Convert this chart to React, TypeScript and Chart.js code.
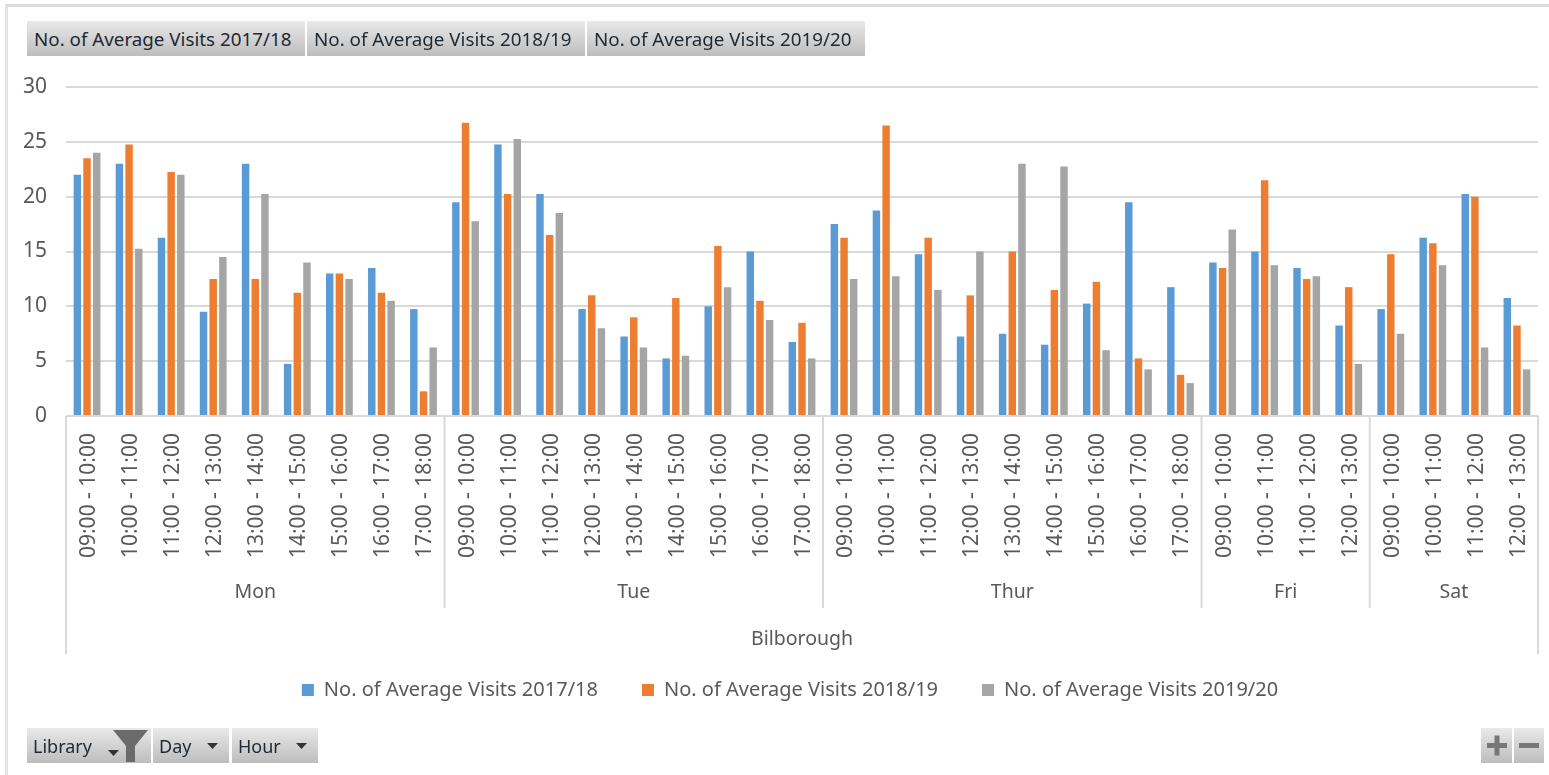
import React, { useEffect, useRef } from "react";
import { Chart, registerables } from "chart.js";

Chart.register(...registerables);

const hoursLong = ["09:00 - 10:00","10:00 - 11:00","11:00 - 12:00","12:00 - 13:00","13:00 - 14:00","14:00 - 15:00","15:00 - 16:00","16:00 - 17:00","17:00 - 18:00"];
const hoursShort = ["09:00 - 10:00","10:00 - 11:00","11:00 - 12:00","12:00 - 13:00"];
const categories = [...hoursLong, ...hoursLong, ...hoursLong, ...hoursShort, ...hoursShort];
const days = ["Mon", "Tue", "Thur", "Fri", "Sat"];
const dayCounts = [9, 9, 9, 4, 4];
const library = "Bilborough";
const seriesNames = ["No. of Average Visits 2017/18", "No. of Average Visits 2018/19", "No. of Average Visits 2019/20"];
const visits1718 = [22,23,16.25,9.5,23,4.75,13,13.5,9.75, 19.5,24.75,20.25,9.75,7.25,5.25,10,15,6.75, 17.5,18.75,14.75,7.25,7.5,6.5,10.25,19.5,11.75, 14,15,13.5,8.25, 9.75,16.25,20.25,10.75];
const visits1819 = [23.5,24.75,22.25,12.5,12.5,11.25,13,11.25,2.25, 26.75,20.25,16.5,11,9,10.75,15.5,10.5,8.5, 16.25,26.5,16.25,11,15,11.5,12.25,5.25,3.75, 13.5,21.5,12.5,11.75, 14.75,15.75,20,8.25];
const visits1920 = [24,15.25,22,14.5,20.25,14,12.5,10.5,6.25, 17.75,25.25,18.5,8,6.25,5.5,11.75,8.75,5.25, 12.5,12.75,11.5,15,23,22.75,6,4.25,3, 17,13.75,12.75,4.75, 7.5,13.75,6.25,4.25];
const colors = ["#5B9BD5", "#ED7D31", "#A5A5A5"];
const topButtons = seriesNames;
const FONT = "'Noto Sans', sans-serif";
const TEXT = "#595959";
const LINE = "#d9d9d9";

const groupAxis = {
  id: "groupAxis",
  afterLayout(chart: any) {
    chart.legend.left += 21;
    chart.legend.right += 21;
  },
  afterDraw(chart: any) {
    const { ctx, scales: { x } } = chart;
    const base = chart.chartArea.bottom;
    const step = x.getPixelForValue(1) - x.getPixelForValue(0);
    const edge = (i: number) => x.getPixelForValue(i) - step / 2;
    ctx.save();
    ctx.strokeStyle = LINE;
    ctx.lineWidth = 2;
    ctx.fillStyle = TEXT;
    ctx.font = `19.5px ${FONT}`;
    ctx.textAlign = "center";
    ctx.textBaseline = "middle";
    const vline = (px: number, bottom: number) => {
      ctx.beginPath();
      ctx.moveTo(px, base);
      ctx.lineTo(px, bottom);
      ctx.stroke();
    };
    let start = 0;
    days.forEach((d, i) => {
      const end = start + dayCounts[i];
      ctx.fillText(d, (edge(start) + edge(end)) / 2, base + 176);
      if (i < days.length - 1) vline(edge(end), base + 192);
      start = end;
    });
    vline(edge(0), base + 238);
    vline(edge(start), base + 238);
    ctx.fillText(library, (edge(0) + edge(start)) / 2, base + 223);
    ctx.restore();
  },
};

const btn: React.CSSProperties = {
  position: "absolute",
  boxSizing: "border-box",
  background: "linear-gradient(#e9e9e9, #bdbdbd)",
  color: "#1e2933",
  font: `18.8px ${FONT}`,
  display: "flex",
  alignItems: "center",
  paddingLeft: 7,
  whiteSpace: "nowrap",
  overflow: "hidden",
};
const btnSmall: React.CSSProperties = { ...btn, font: `18px ${FONT}`, paddingLeft: 6 };

const Arrow = ({ x, y }: { x: number; y: number }) => (
  <svg style={{ position: "absolute", left: x, top: y }} width="11" height="6">
    <polygon points="0,0 11,0 5.5,6" fill="#333" />
  </svg>
);

export default function App() {
  const ref = useRef<HTMLCanvasElement>(null);
  useEffect(() => {
    const chart = new Chart(ref.current!, {
      type: "bar",
      data: {
        labels: categories,
        datasets: [visits1718, visits1819, visits1920].map((data, i) => ({
          label: seriesNames[i],
          data,
          backgroundColor: colors[i],
          categoryPercentage: 0.69,
          barPercentage: 0.77,
        })),
      },
      options: {
        responsive: false,
        animation: false,
        layout: { padding: { top: 87, right: 11, left: 0, bottom: 65 } },
        plugins: {
          tooltip: { enabled: false },
          legend: {
            position: "bottom",
            labels: {
              color: TEXT,
              font: { family: FONT, size: 20 },
              boxWidth: 12,
              boxHeight: 12,
              padding: 44,
            },
          },
        },
        scales: {
          x: {
            afterFit: (s: any) => { s.height = 220; s.paddingLeft = 0; s.paddingRight = 0; },
            grid: { display: false, drawTicks: false },
            border: { display: false },
            ticks: {
              autoSkip: false,
              minRotation: 90,
              maxRotation: 90,
              padding: 17,
              labelOffset: 2,
              color: TEXT,
              font: { family: FONT, size: 21 },
            },
          },
          y: {
            min: 0,
            max: 30,
            afterFit: (s: any) => { s.width = 66; s.paddingTop = 0; s.paddingBottom = 0; },
            grid: { color: LINE, lineWidth: 2, drawTicks: false },
            border: { display: false },
            ticks: {
              stepSize: 5,
              padding: 19,
              color: TEXT,
              font: { family: FONT, size: 21 },
            },
          },
        },
      },
      plugins: [groupAxis],
    } as any);
    return () => chart.destroy();
  }, []);

  return (
    <div style={{ position: "absolute", left: 0, top: 0, width: 1549, height: 775, background: "#fff", overflow: "hidden" }}>
      <canvas ref={ref} width={1549} height={775} style={{ display: "block", position: "absolute", left: 0, top: 0 }} />
      <div style={{ position: "absolute", left: 5, top: 4, width: 1544, height: 771, borderTop: "3px solid #dcdcdc", borderLeft: "3px solid #e4e4e4", boxSizing: "border-box" }} />
      {topButtons.map((t, i) => (
        <div key={t} style={{ ...btn, left: 27 + i * 280, top: 21, width: 278, height: 35 }}>{t}</div>
      ))}
      <div style={{ ...btnSmall, left: 27, top: 728, width: 124, height: 35 }}>Library</div>
      <div style={{ ...btnSmall, left: 153, top: 728, width: 76, height: 35 }}>Day</div>
      <div style={{ ...btnSmall, left: 232, top: 728, width: 86, height: 35 }}>Hour</div>
      <Arrow x={108} y={750} />
      <Arrow x={207} y={743} />
      <Arrow x={296} y={743} />
      <svg style={{ position: "absolute", left: 112, top: 729 }} width="37" height="34">
        <polygon points="1,1 36,1 23,17 23,33 14,33 14,17" fill="#6b6b6b" />
      </svg>
      <div style={{ ...btn, left: 1481, top: 728, width: 31, height: 35, padding: 0 }}>
        <svg width="31" height="35"><path d="M6 17.5H26M16 7.5V27.5" stroke="#777" strokeWidth="5" /></svg>
      </div>
      <div style={{ ...btn, left: 1514, top: 728, width: 30, height: 35, padding: 0 }}>
        <svg width="30" height="35"><path d="M5 17.5H25" stroke="#777" strokeWidth="5" /></svg>
      </div>
    </div>
  );
}
